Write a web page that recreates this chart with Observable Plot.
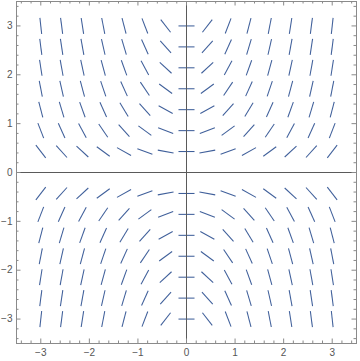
<!DOCTYPE html>
<html>
<head>
<meta charset="utf-8">
<script src="https://cdn.jsdelivr.net/npm/d3@7"></script>
<script src="https://cdn.jsdelivr.net/npm/@observablehq/plot@0.6"></script>
<style>
  html, body { margin: 0; padding: 0; background: #fff; }
  #chart svg { display: block; }
</style>
</head>
<body>
<div id="chart"></div>
<script>
// Grid of sample points (columns left→right, rows top→bottom)
const xs = [-3, -2.571, -2.143, -1.714, -1.286, -0.857, -0.429, 0, 0.429, 0.857, 1.286, 1.714, 2.143, 2.571, 3];
const ys = [3, 2.571, 2.143, 1.714, 1.286, 0.857, 0.429, 0, -0.429, -0.857, -1.286, -1.714, -2.143, -2.571, -3];

// Slope of each segment (rows match ys, columns match xs)
const slopes = [
  [-9.00, -7.71, -6.43, -5.14, -3.86, -2.57, -1.29, 0, 1.29, 2.57, 3.86, 5.14, 6.43, 7.71, 9.00],
  [-7.71, -6.61, -5.51, -4.41, -3.31, -2.20, -1.10, 0, 1.10, 2.20, 3.31, 4.41, 5.51, 6.61, 7.71],
  [-6.43, -5.51, -4.59, -3.67, -2.76, -1.84, -0.92, 0, 0.92, 1.84, 2.76, 3.67, 4.59, 5.51, 6.43],
  [-5.14, -4.41, -3.67, -2.94, -2.20, -1.47, -0.73, 0, 0.73, 1.47, 2.20, 2.94, 3.67, 4.41, 5.14],
  [-3.86, -3.31, -2.76, -2.20, -1.65, -1.10, -0.55, 0, 0.55, 1.10, 1.65, 2.20, 2.76, 3.31, 3.86],
  [-2.57, -2.20, -1.84, -1.47, -1.10, -0.73, -0.37, 0, 0.37, 0.73, 1.10, 1.47, 1.84, 2.20, 2.57],
  [-1.29, -1.10, -0.92, -0.73, -0.55, -0.37, -0.18, 0, 0.18, 0.37, 0.55, 0.73, 0.92, 1.10, 1.29],
  [0, 0, 0, 0, 0, 0, 0, 0, 0, 0, 0, 0, 0, 0, 0],
  [1.29, 1.10, 0.92, 0.73, 0.55, 0.37, 0.18, 0, -0.18, -0.37, -0.55, -0.73, -0.92, -1.10, -1.29],
  [2.57, 2.20, 1.84, 1.47, 1.10, 0.73, 0.37, 0, -0.37, -0.73, -1.10, -1.47, -1.84, -2.20, -2.57],
  [3.86, 3.31, 2.76, 2.20, 1.65, 1.10, 0.55, 0, -0.55, -1.10, -1.65, -2.20, -2.76, -3.31, -3.86],
  [5.14, 4.41, 3.67, 2.94, 2.20, 1.47, 0.73, 0, -0.73, -1.47, -2.20, -2.94, -3.67, -4.41, -5.14],
  [6.43, 5.51, 4.59, 3.67, 2.76, 1.84, 0.92, 0, -0.92, -1.84, -2.76, -3.67, -4.59, -5.51, -6.43],
  [7.71, 6.61, 5.51, 4.41, 3.31, 2.20, 1.10, 0, -1.10, -2.20, -3.31, -4.41, -5.51, -6.61, -7.71],
  [9.00, 7.71, 6.43, 5.14, 3.86, 2.57, 1.29, 0, -1.29, -2.57, -3.86, -5.14, -6.43, -7.71, -9.00]
];

const majorTicks = [-3, -2, -1, 0, 1, 2, 3];
const tickLabels = ["−3", "−2", "−1", "0", "1", "2", "3"];
const minorTicks = [-3.4, -3.2, -2.8, -2.6, -2.4, -2.2, -1.8, -1.6, -1.4, -1.2, -0.8, -0.6, -0.4, -0.2,
                    0.2, 0.4, 0.6, 0.8, 1.2, 1.4, 1.6, 1.8, 2.2, 2.4, 2.6, 2.8, 3.2, 3.4];

const W = 360, H = 361;
const mL = 16, mR = 4, mT = 1, mB = 18;
const fw = W - mL - mR, fh = H - mT - mB;
const halfLen = 0.165; // half segment length in data units

const segs = [];
ys.forEach((y, r) => xs.forEach((x, c) => {
  const a = Math.atan(slopes[r][c]);
  segs.push({
    x1: x - halfLen * Math.cos(a), y1: y - halfLen * Math.sin(a),
    x2: x + halfLen * Math.cos(a), y2: y + halfLen * Math.sin(a)
  });
}));

const fmt = d => tickLabels[majorTicks.indexOf(d)];
const frameColor = "#8a8a8a";
const majLen = 4.5, minLen = 2.5;

const chart = Plot.plot({
  width: W, height: H,
  marginLeft: mL, marginRight: mR, marginTop: mT, marginBottom: mB,
  x: {domain: [-3.5, 3.5]},
  y: {domain: [-3.5, 3.5]},
  style: {fontFamily: "'Liberation Sans', Arial, sans-serif", fontSize: "10px", background: "#fff"},
  marks: [
    Plot.link(segs, {x1: "x1", y1: "y1", x2: "x2", y2: "y2", stroke: "#3f5f9a", strokeWidth: 1.05}),
    Plot.ruleX([0], {stroke: "#5a5a5a", strokeWidth: 1}),
    Plot.ruleY([0], {stroke: "#5a5a5a", strokeWidth: 1}),
    Plot.frame({stroke: frameColor}),
    // bottom / top ticks
    Plot.ruleX(majorTicks, {stroke: frameColor, insetTop: fh - majLen}),
    Plot.ruleX(minorTicks, {stroke: frameColor, insetTop: fh - minLen}),
    Plot.ruleX(majorTicks, {stroke: frameColor, insetBottom: fh - majLen}),
    Plot.ruleX(minorTicks, {stroke: frameColor, insetBottom: fh - minLen}),
    // left / right ticks
    Plot.ruleY(majorTicks, {stroke: frameColor, insetRight: fw - majLen}),
    Plot.ruleY(minorTicks, {stroke: frameColor, insetRight: fw - minLen}),
    Plot.ruleY(majorTicks, {stroke: frameColor, insetLeft: fw - majLen}),
    Plot.ruleY(minorTicks, {stroke: frameColor, insetLeft: fw - minLen}),
    Plot.axisX({anchor: "bottom", ticks: majorTicks, tickFormat: fmt, tickSize: 0, tickPadding: 5, label: null, color: "#555"}),
    Plot.axisY({anchor: "left", ticks: majorTicks, tickFormat: fmt, tickSize: 0, tickPadding: 4, label: null, color: "#555"})
  ]
});
document.getElementById("chart").appendChild(chart);
</script>
</body>
</html>
